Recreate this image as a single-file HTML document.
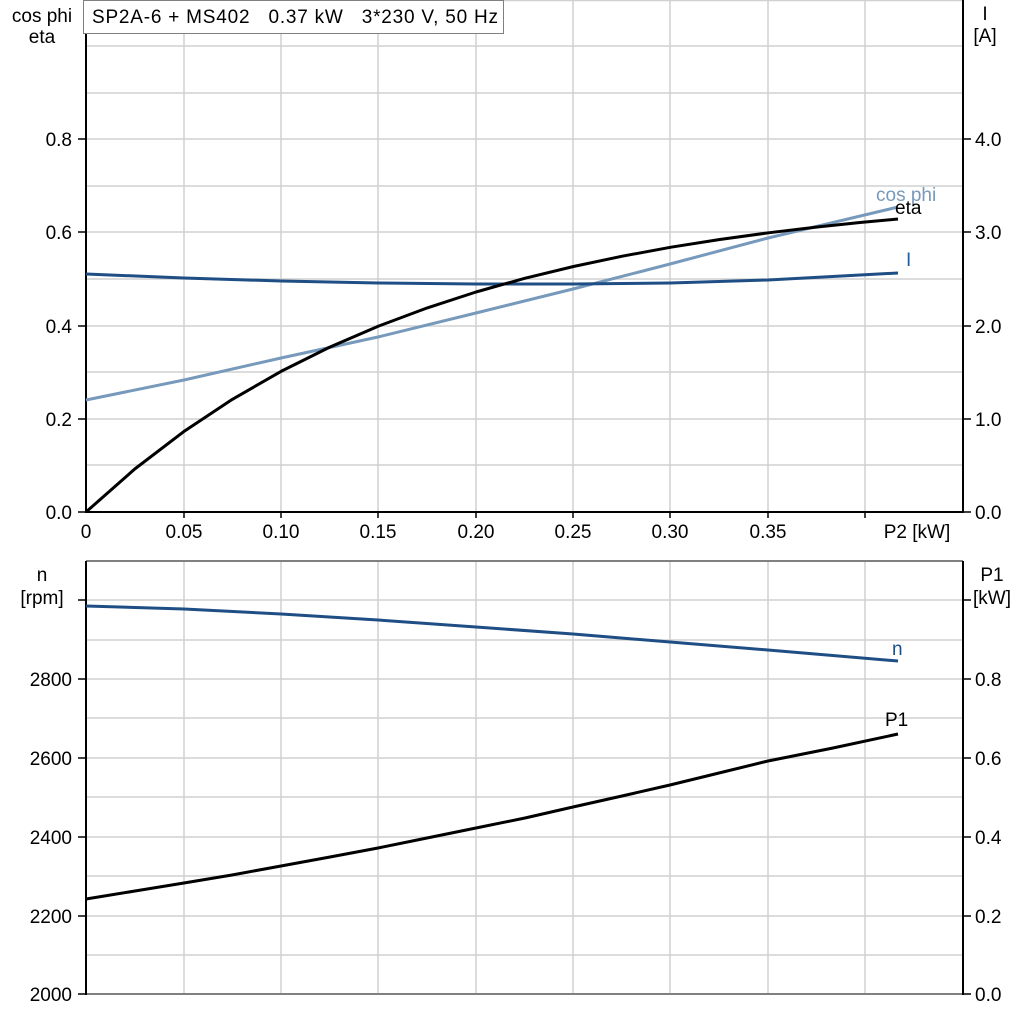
<!DOCTYPE html>
<html><head><meta charset="utf-8"><style>
html,body{margin:0;padding:0;background:#fff;}
svg{display:block;font-family:"Liberation Sans",Arial,sans-serif;}
</style></head><body>
<svg width="1024" height="1024" viewBox="0 0 1024 1024" xmlns="http://www.w3.org/2000/svg">
<rect width="1024" height="1024" fill="#fff"/>
<g stroke="#d0d0d0" stroke-width="1.5">
<line x1="184" y1="0" x2="184" y2="512"/><line x1="281" y1="0" x2="281" y2="512"/>
<line x1="378" y1="0" x2="378" y2="512"/><line x1="476" y1="0" x2="476" y2="512"/>
<line x1="573" y1="0" x2="573" y2="512"/><line x1="670" y1="0" x2="670" y2="512"/>
<line x1="768" y1="0" x2="768" y2="512"/><line x1="865" y1="0" x2="865" y2="512"/>
<line x1="86" y1="46" x2="963" y2="46"/><line x1="86" y1="93" x2="963" y2="93"/>
<line x1="86" y1="139" x2="963" y2="139"/><line x1="86" y1="186" x2="963" y2="186"/>
<line x1="86" y1="232" x2="963" y2="232"/><line x1="86" y1="279" x2="963" y2="279"/>
<line x1="86" y1="326" x2="963" y2="326"/><line x1="86" y1="372" x2="963" y2="372"/>
<line x1="86" y1="419" x2="963" y2="419"/><line x1="86" y1="465" x2="963" y2="465"/>
<line x1="86" y1="0.5" x2="963" y2="0.5"/>
</g>
<g stroke="#d0d0d0" stroke-width="1.5">
<line x1="184" y1="561" x2="184" y2="994"/><line x1="281" y1="561" x2="281" y2="994"/>
<line x1="378" y1="561" x2="378" y2="994"/><line x1="476" y1="561" x2="476" y2="994"/>
<line x1="573" y1="561" x2="573" y2="994"/><line x1="670" y1="561" x2="670" y2="994"/>
<line x1="768" y1="561" x2="768" y2="994"/><line x1="865" y1="561" x2="865" y2="994"/>
<line x1="86" y1="600" x2="963" y2="600"/><line x1="86" y1="640" x2="963" y2="640"/>
<line x1="86" y1="679" x2="963" y2="679"/><line x1="86" y1="718" x2="963" y2="718"/>
<line x1="86" y1="758" x2="963" y2="758"/><line x1="86" y1="797" x2="963" y2="797"/>
<line x1="86" y1="837" x2="963" y2="837"/><line x1="86" y1="876" x2="963" y2="876"/>
<line x1="86" y1="916" x2="963" y2="916"/><line x1="86" y1="955" x2="963" y2="955"/>
</g>
<line x1="86" y1="561" x2="963" y2="561" stroke="#808080" stroke-width="2"/>
<line x1="86" y1="994" x2="963" y2="994" stroke="#808080" stroke-width="2"/>
<g stroke="#000" stroke-width="2">
<line x1="86" y1="0" x2="86" y2="513"/><line x1="963" y1="0" x2="963" y2="513"/>
<line x1="85" y1="512" x2="964" y2="512"/>
<line x1="86" y1="561" x2="86" y2="995"/><line x1="963" y1="561" x2="963" y2="995"/>
</g>
<g stroke="#000" stroke-width="1.5">
<line x1="78" y1="139" x2="86" y2="139"/><line x1="78" y1="232" x2="86" y2="232"/><line x1="78" y1="326" x2="86" y2="326"/><line x1="78" y1="419" x2="86" y2="419"/><line x1="78" y1="512" x2="86" y2="512"/>
<line x1="963" y1="139" x2="971" y2="139"/><line x1="963" y1="232" x2="971" y2="232"/><line x1="963" y1="326" x2="971" y2="326"/><line x1="963" y1="419" x2="971" y2="419"/><line x1="963" y1="512" x2="971" y2="512"/>
<line x1="184" y1="512" x2="184" y2="518"/><line x1="281" y1="512" x2="281" y2="518"/><line x1="378" y1="512" x2="378" y2="518"/><line x1="476" y1="512" x2="476" y2="518"/><line x1="573" y1="512" x2="573" y2="518"/><line x1="670" y1="512" x2="670" y2="518"/><line x1="768" y1="512" x2="768" y2="518"/><line x1="865" y1="512" x2="865" y2="518"/>
<line x1="78" y1="600" x2="86" y2="600"/><line x1="78" y1="679" x2="86" y2="679"/><line x1="78" y1="758" x2="86" y2="758"/><line x1="78" y1="837" x2="86" y2="837"/><line x1="78" y1="916" x2="86" y2="916"/><line x1="78" y1="994" x2="86" y2="994"/>
<line x1="963" y1="600" x2="971" y2="600"/><line x1="963" y1="679" x2="971" y2="679"/><line x1="963" y1="758" x2="971" y2="758"/><line x1="963" y1="837" x2="971" y2="837"/><line x1="963" y1="916" x2="971" y2="916"/><line x1="963" y1="994" x2="971" y2="994"/>
</g>
<g font-size="19" fill="#000">
<text x="42" y="22" text-anchor="middle">cos phi</text><text x="42" y="43" text-anchor="middle">eta</text>
<text x="985" y="20" text-anchor="middle">I</text><text x="985" y="42" text-anchor="middle">[A]</text>
<g text-anchor="end">
<text x="72" y="146">0.8</text><text x="72" y="239">0.6</text><text x="72" y="333">0.4</text><text x="72" y="426">0.2</text><text x="72" y="519">0.0</text>
<text x="72" y="686">2800</text><text x="72" y="765">2600</text><text x="72" y="844">2400</text><text x="72" y="923">2200</text><text x="72" y="1001">2000</text>
</g>
<g text-anchor="start">
<text x="975" y="146">4.0</text><text x="975" y="239">3.0</text><text x="975" y="333">2.0</text><text x="975" y="426">1.0</text><text x="975" y="519">0.0</text>
<text x="975" y="686">0.8</text><text x="975" y="765">0.6</text><text x="975" y="844">0.4</text><text x="975" y="923">0.2</text><text x="975" y="1001">0.0</text>
</g>
<g text-anchor="middle">
<text x="86" y="538">0</text><text x="184" y="538">0.05</text><text x="281" y="538">0.10</text><text x="378" y="538">0.15</text><text x="476" y="538">0.20</text><text x="573" y="538">0.25</text><text x="670" y="538">0.30</text><text x="768" y="538">0.35</text>
<text x="917" y="538">P2 [kW]</text>
<text x="42" y="581">n</text><text x="42" y="604">[rpm]</text>
<text x="992" y="581">P1</text><text x="992" y="604">[kW]</text>
</g>
</g>
<rect x="83.5" y="0.5" width="420" height="33" fill="#fff" stroke="#808080" stroke-width="1"/>
<text x="92" y="23" font-size="19" fill="#000" textLength="406">SP2A-6 + MS402&#160;&#160;&#160;0.37 kW&#160;&#160;&#160;3*230 V, 50 Hz</text>
<polyline fill="none" stroke="#7799bb" stroke-width="3" points="86,400 184,380 281,358 378,337 476,313 573,289 670,264 768,238 898,207"/>
<polyline fill="none" stroke="#1f4e85" stroke-width="3" points="86,274 184,278 281,281 378,283 476,284 573,284 670,283 768,280 898,273"/>
<polyline fill="none" stroke="#000" stroke-width="3" stroke-linejoin="round" points="86,512 134.75,469 183.5,431.8 232.25,399.4 281,371.4 329.75,347.1 378.5,326.1 427.25,307.9 476,292 524.75,278.3 573.5,266.5 622.25,256.2 671,247.2 719.75,239.5 768.5,232.8 817.25,227 860,222.5 898,219"/>
<polyline fill="none" stroke="#1f4e85" stroke-width="3" points="86,606 184,609 281,614 378,620 476,627 573,634 670,642 768,650 898,661"/>
<polyline fill="none" stroke="#000" stroke-width="3" stroke-linejoin="round" points="86,899 135,891 184,883 232,875 281,866 330,857 378,848 427,838 476,828 525,818 573,807 622,796 670,785 719,773 768,761 833,748 898,734"/>
<g font-size="19">
<text x="876" y="201" fill="#7799bb">cos phi</text>
<text x="895" y="214" fill="#000">eta</text>
<text x="906" y="266" fill="#1f5fa0">I</text>
<text x="892" y="655" fill="#1f4e85">n</text>
<text x="885" y="726" fill="#000">P1</text>
</g>
</svg>
</body></html>
